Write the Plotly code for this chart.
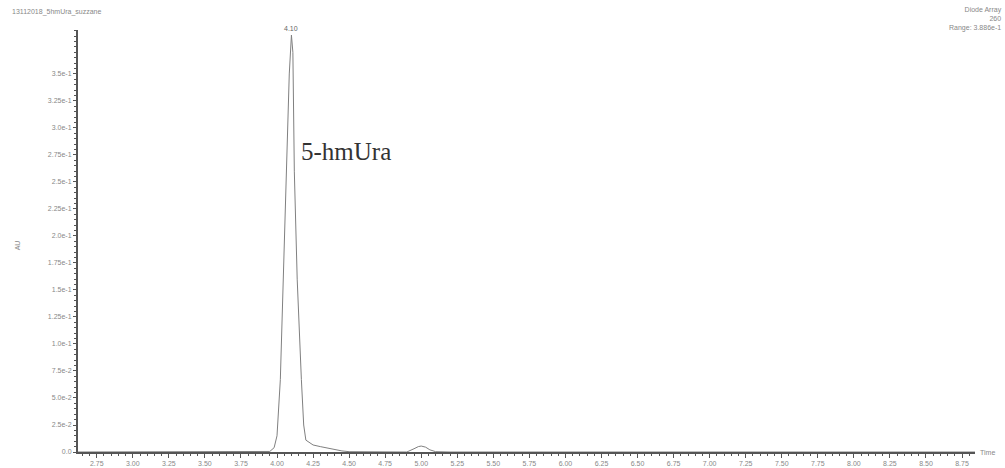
import plotly.graph_objects as go

# Chromatogram trace (time in min, absorbance in AU)
time_min = [2.61, 3.50, 3.90, 3.95, 3.98, 4.00, 4.023, 4.045, 4.065, 4.085, 4.10,
            4.11, 4.12, 4.14, 4.169, 4.185, 4.20, 4.25, 4.30, 4.35, 4.40, 4.45, 4.50,
            4.80, 4.90, 4.95, 4.98, 5.00, 5.03, 5.06, 5.10, 5.20, 6.50, 8.84]
absorb_au = [0.0, 0.0, 0.0, 0.0005, 0.004, 0.015, 0.067, 0.16, 0.26, 0.35, 0.386,
             0.37, 0.26, 0.16, 0.067, 0.025, 0.011, 0.0065, 0.005, 0.0035, 0.002, 0.001, 0.0003,
             0.0, 0.0, 0.003, 0.005, 0.0055, 0.0045, 0.002, 0.0003, 0.0, 0.0, 0.0]

y_tick_vals = [0, 0.025, 0.05, 0.075, 0.1, 0.125, 0.15, 0.175, 0.2, 0.225, 0.25,
               0.275, 0.3, 0.325, 0.35]
y_tick_text = ["0.0", "2.5e-2", "5.0e-2", "7.5e-2", "1.0e-1", "1.25e-1", "1.5e-1",
               "1.75e-1", "2.0e-1", "2.25e-1", "2.5e-1", "2.75e-1", "3.0e-1",
               "3.25e-1", "3.5e-1"]
x_tick_vals = [2.75, 3.00, 3.25, 3.50, 3.75, 4.00, 4.25, 4.50, 4.75, 5.00, 5.25, 5.50,
               5.75, 6.00, 6.25, 6.50, 6.75, 7.00, 7.25, 7.50, 7.75, 8.00, 8.25, 8.50, 8.75]
x_tick_text = [f"{v:.2f}" for v in x_tick_vals]

peak_time = 4.10
peak_value = 0.386

axis_col = "#555555"
text_col = "#888888"

fig = go.Figure()
fig.add_trace(go.Scatter(x=time_min, y=absorb_au, mode="lines",
                         line=dict(color="#808080", width=1), showlegend=False,
                         hoverinfo="skip"))

fig.update_layout(
    width=1005, height=468,
    margin=dict(l=78, r=30, t=30, b=16, autoexpand=False),
    paper_bgcolor="white", plot_bgcolor="white",
    font=dict(family="Liberation Sans, Arial, sans-serif", size=7, color=text_col),
    xaxis=dict(range=[2.62, 8.84], showgrid=False, zeroline=False, automargin=False,
               showline=True, linecolor=axis_col, linewidth=2,
               tickmode="array", tickvals=x_tick_vals, ticktext=x_tick_text,
               ticks="outside", ticklen=4, tickcolor=axis_col, tickwidth=1,
               tickfont=dict(size=7, color=text_col),
               minor=dict(dtick=0.05, tick0=2.75, ticks="outside", ticklen=2,
                          tickcolor=axis_col, showgrid=False)),
    yaxis=dict(range=[0, 0.3907], showgrid=False, zeroline=False, automargin=False,
               showline=True, linecolor=axis_col, linewidth=2,
               tickmode="array", tickvals=y_tick_vals, ticktext=y_tick_text,
               ticks="outside", ticklen=3, tickcolor=axis_col, tickwidth=1,
               tickfont=dict(size=7, color=text_col),
               minor=dict(dtick=0.005, tick0=0, ticks="outside", ticklen=2,
                          tickcolor=axis_col, showgrid=False)),
)

anns = [
    dict(x=peak_time, y=peak_value, xref="x", yref="y", text="4.10", showarrow=False,
         yanchor="bottom", yshift=1, font=dict(size=7, color="#666666")),
    dict(x=4.15, y=0.278, xref="x", yref="y", text="5-hmUra", showarrow=False,
         xanchor="left", yanchor="middle",
         font=dict(family="Liberation Serif, Times New Roman, serif", size=25, color="#333333")),
    dict(x=-0.076, y=1.043, xref="paper", yref="paper", text="13112018_5hmUra_suzzane",
         showarrow=False, xanchor="left", yanchor="middle",
         font=dict(size=7, color=text_col)),
    dict(x=1.032, y=1.062, xref="paper", yref="paper",
         text="Diode Array<br>260<br>Range: 3.886e-1", align="right",
         showarrow=False, xanchor="right", yanchor="top",
         font=dict(size=7, color=text_col)),
    dict(x=-0.074, y=0.49, xref="paper", yref="paper", text="AU", textangle=-90,
         showarrow=False, font=dict(size=7, color=text_col)),
    dict(x=1.003, y=0.0, xref="paper", yref="paper", text="Time", showarrow=False,
         xanchor="left", yanchor="middle", font=dict(size=7, color=text_col)),
]
fig.update_layout(annotations=anns)

fig.write_html("out.html")
